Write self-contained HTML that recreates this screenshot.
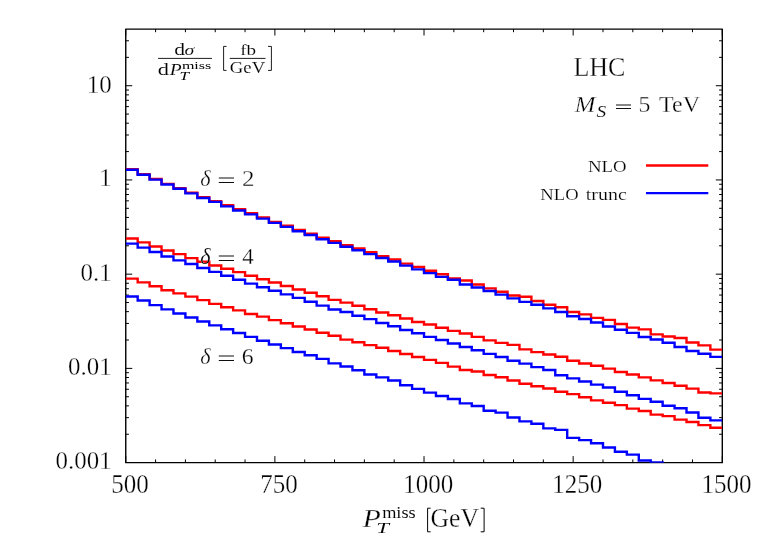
<!DOCTYPE html>
<html><head><meta charset="utf-8">
<style>
html,body{margin:0;padding:0;background:#fff;overflow:hidden;}
svg{display:block;}
text{font-family:"Liberation Serif",serif;fill:#000;}
.big{font-size:26px;}
.thin{stroke:#fff;stroke-width:0.3px;}
</style></head><body>
<svg width="763" height="535" viewBox="0 0 763 535">
<rect width="763" height="535" fill="#fff"/>
<defs><clipPath id="c"><rect x="125.75" y="29.0" width="596.55" height="433.65"/></clipPath></defs>
<path d="M125.75 462.65v-6.50M125.75 29.00v6.50M155.58 462.65v-3.20M155.58 29.00v3.20M185.41 462.65v-3.20M185.41 29.00v3.20M215.23 462.65v-3.20M215.23 29.00v3.20M245.06 462.65v-3.20M245.06 29.00v3.20M274.89 462.65v-6.50M274.89 29.00v6.50M304.72 462.65v-3.20M304.72 29.00v3.20M334.54 462.65v-3.20M334.54 29.00v3.20M364.37 462.65v-3.20M364.37 29.00v3.20M394.20 462.65v-3.20M394.20 29.00v3.20M424.02 462.65v-6.50M424.02 29.00v6.50M453.85 462.65v-3.20M453.85 29.00v3.20M483.68 462.65v-3.20M483.68 29.00v3.20M513.51 462.65v-3.20M513.51 29.00v3.20M543.33 462.65v-3.20M543.33 29.00v3.20M573.16 462.65v-6.50M573.16 29.00v6.50M602.99 462.65v-3.20M602.99 29.00v3.20M632.82 462.65v-3.20M632.82 29.00v3.20M662.64 462.65v-3.20M662.64 29.00v3.20M692.47 462.65v-3.20M692.47 29.00v3.20M722.30 462.65v-6.50M722.30 29.00v6.50M125.75 434.24h3.20M722.30 434.24h-3.20M125.75 417.65h3.20M722.30 417.65h-3.20M125.75 405.87h3.20M722.30 405.87h-3.20M125.75 396.74h3.20M722.30 396.74h-3.20M125.75 389.28h3.20M722.30 389.28h-3.20M125.75 382.97h3.20M722.30 382.97h-3.20M125.75 377.51h3.20M722.30 377.51h-3.20M125.75 372.69h3.20M722.30 372.69h-3.20M125.75 368.38h6.50M722.30 368.38h-6.50M125.75 340.02h3.20M722.30 340.02h-3.20M125.75 323.43h3.20M722.30 323.43h-3.20M125.75 311.65h3.20M722.30 311.65h-3.20M125.75 302.52h3.20M722.30 302.52h-3.20M125.75 295.06h3.20M722.30 295.06h-3.20M125.75 288.75h3.20M722.30 288.75h-3.20M125.75 283.29h3.20M722.30 283.29h-3.20M125.75 278.47h3.20M722.30 278.47h-3.20M125.75 274.16h6.50M722.30 274.16h-6.50M125.75 245.80h3.20M722.30 245.80h-3.20M125.75 229.21h3.20M722.30 229.21h-3.20M125.75 217.43h3.20M722.30 217.43h-3.20M125.75 208.30h3.20M722.30 208.30h-3.20M125.75 200.84h3.20M722.30 200.84h-3.20M125.75 194.53h3.20M722.30 194.53h-3.20M125.75 189.07h3.20M722.30 189.07h-3.20M125.75 184.25h3.20M722.30 184.25h-3.20M125.75 179.94h6.50M722.30 179.94h-6.50M125.75 151.58h3.20M722.30 151.58h-3.20M125.75 134.99h3.20M722.30 134.99h-3.20M125.75 123.21h3.20M722.30 123.21h-3.20M125.75 114.08h3.20M722.30 114.08h-3.20M125.75 106.62h3.20M722.30 106.62h-3.20M125.75 100.31h3.20M722.30 100.31h-3.20M125.75 94.85h3.20M722.30 94.85h-3.20M125.75 90.03h3.20M722.30 90.03h-3.20M125.75 85.72h6.50M722.30 85.72h-6.50M125.75 57.36h3.20M722.30 57.36h-3.20M125.75 40.77h3.20M722.30 40.77h-3.20" stroke="#000" stroke-width="1" fill="none"/>
<rect x="125.75" y="29.1" width="596.55" height="433.54999999999995" fill="none" stroke="#000" stroke-width="1.4" stroke-linejoin="round"/>
<g clip-path="url(#c)" fill="none" stroke-width="2.4" stroke-linejoin="miter">
<path d="M125.75 169.15H137.68V174.18H149.61V178.96H161.54V183.84H173.47V188.12H185.41V192.70H197.34V197.28H209.27V201.20H221.20V205.20H233.13V209.20H245.06V213.10H256.99V217.40H268.92V222.00H280.85V225.69H292.78V229.91H304.71V233.67H316.65V237.78H328.58V241.29H340.51V245.10H352.44V248.51H364.37V252.32H376.30V256.13H388.23V259.54H400.16V263.65H412.09V266.85H424.02V270.75H435.96V274.25H447.89V278.45H459.82V280.55H471.75V284.45H483.68V288.35H495.61V291.75H507.54V295.45H519.47V296.75H531.40V300.95H543.34V304.75H555.27V307.25H567.20V311.95H579.13V314.35H591.06V317.85H602.99V319.85H614.92V323.95H626.85V327.65H638.78V329.35H650.71V334.35H662.64V336.45H674.58V338.05H686.51V342.55H698.44V345.35H710.37V349.65H722.30" stroke="#ff0000"/>
<path d="M125.75 169.75H137.68V174.80H149.61V179.60H161.54V184.50H173.47V188.80H185.41V193.40H197.34V198.00H209.27V201.90H221.20V206.40H233.13V210.50H245.06V214.40H256.99V218.60H268.92V222.90H280.85V226.90H292.78V231.20H304.71V235.05H316.65V239.25H328.58V242.85H340.51V246.75H352.44V250.25H364.37V254.15H376.30V258.05H388.23V261.55H400.16V265.65H412.09V269.35H424.02V273.15H435.96V276.85H447.89V279.75H459.82V284.45H471.75V287.55H483.68V291.05H495.61V294.65H507.54V298.35H519.47V301.85H531.40V304.75H543.34V308.35H555.27V311.95H567.20V316.25H579.13V318.95H591.06V322.55H602.99V326.45H614.92V329.75H626.85V332.85H638.78V337.05H650.71V339.55H662.64V342.75H674.58V346.95H686.51V350.95H698.44V353.75H710.37V356.85H722.30" stroke="#0000ff"/>
<path d="M125.75 238.45H137.68V242.35H149.61V246.55H161.54V250.55H173.47V254.15H185.41V258.15H197.34V261.75H209.27V265.45H221.20V268.75H233.13V272.15H245.06V275.75H256.99V279.25H268.92V282.55H280.85V286.05H292.78V289.45H304.71V292.75H316.65V296.25H328.58V299.85H340.51V302.65H352.44V305.75H364.37V309.25H376.30V312.45H388.23V315.25H400.16V318.55H412.09V321.95H424.02V324.45H435.96V327.75H447.89V330.85H459.82V333.45H471.75V336.85H483.68V340.35H495.61V342.85H507.54V344.85H519.47V349.35H531.40V352.15H543.34V354.55H555.27V356.75H567.20V360.75H579.13V363.45H591.06V365.75H602.99V368.65H614.92V372.05H626.85V374.45H638.78V377.35H650.71V380.35H662.64V382.95H674.58V385.75H686.51V388.65H698.44V392.45H710.37V393.35H722.30" stroke="#ff0000"/>
<path d="M125.75 243.65H137.68V247.65H149.61V251.95H161.54V256.45H173.47V260.35H185.41V264.05H197.34V267.95H209.27V271.85H221.20V275.75H233.13V279.75H245.06V283.65H256.99V287.25H268.92V290.75H280.85V294.35H292.78V297.85H304.71V301.75H316.65V305.65H328.58V309.45H340.51V312.05H352.44V315.75H364.37V319.15H376.30V323.05H388.23V326.25H400.16V330.05H412.09V333.25H424.02V336.85H435.96V339.95H447.89V343.45H459.82V347.05H471.75V350.25H483.68V353.85H495.61V356.95H507.54V360.75H519.47V363.65H531.40V367.15H543.34V369.95H555.27V375.25H567.20V378.35H579.13V381.55H591.06V384.65H602.99V387.55H614.92V391.75H626.85V395.25H638.78V398.85H650.71V401.75H662.64V405.75H674.58V408.25H686.51V412.55H698.44V417.75H710.37V420.35H722.30" stroke="#0000ff"/>
<path d="M125.75 278.65H137.68V282.35H149.61V286.25H161.54V290.25H173.47V293.35H185.41V296.65H197.34V300.15H209.27V303.85H221.20V307.25H233.13V310.35H245.06V314.05H256.99V316.65H268.92V320.15H280.85V323.25H292.78V326.45H304.71V329.55H316.65V332.75H328.58V335.75H340.51V339.65H352.44V342.25H364.37V345.15H376.30V347.75H388.23V350.95H400.16V354.05H412.09V356.95H424.02V359.85H435.96V362.85H447.89V366.65H459.82V370.05H471.75V371.45H483.68V374.95H495.61V377.25H507.54V380.45H519.47V383.75H531.40V386.25H543.34V388.55H555.27V391.75H567.20V394.15H579.13V397.25H591.06V400.35H602.99V402.75H614.92V405.15H626.85V408.65H638.78V411.05H650.71V414.65H662.64V416.15H674.58V419.65H686.51V421.95H698.44V425.15H710.37V427.75H722.30" stroke="#ff0000"/>
<path d="M125.75 296.55H137.68V300.55H149.61V305.15H161.54V309.35H173.47V313.55H185.41V317.45H197.34V321.45H209.27V325.35H221.20V329.25H233.13V333.05H245.06V336.85H256.99V340.75H268.92V344.55H280.85V348.15H292.78V352.05H304.71V355.25H316.65V358.85H328.58V363.35H340.51V366.55H352.44V370.25H364.37V374.55H376.30V377.35H388.23V380.55H400.16V385.25H412.09V388.85H424.02V392.65H435.96V396.05H447.89V399.05H459.82V403.35H471.75V406.05H483.68V410.75H495.61V412.65H507.54V417.55H519.47V421.35H531.40V423.75H543.34V428.35H555.27V429.85H567.20V437.85H579.13V440.15H591.06V443.25H602.99V447.55H614.92V451.75H626.85V454.65H638.78V460.55H650.71V462.40H662.64V470.35H674.58V474.35H686.51V478.35H698.44V482.35H710.37V486.35H722.30" stroke="#0000ff"/>
</g>
<g opacity="0.999"><text transform="translate(111.6 92.72) scale(0.955 1)" text-anchor="end" font-size="26.1" class="thin">10</text>
<text transform="translate(111.6 186.44) scale(0.955 1)" text-anchor="end" font-size="26.1" class="thin">1</text>
<text transform="translate(111.6 280.66) scale(0.955 1)" text-anchor="end" font-size="26.1" class="thin">0.1</text>
<text transform="translate(111.6 374.88) scale(0.955 1)" text-anchor="end" font-size="26.1" class="thin">0.01</text>
<text transform="translate(111.6 469.10) scale(0.955 1)" text-anchor="end" font-size="26.1" class="thin">0.001</text>
<text transform="translate(129.95 492.7) scale(0.94 1)" text-anchor="middle" font-size="26.6" class="thin">500</text>
<text transform="translate(279.09 492.7) scale(0.94 1)" text-anchor="middle" font-size="26.6" class="thin">750</text>
<text transform="translate(428.22 492.7) scale(0.94 1)" text-anchor="middle" font-size="26.6" class="thin">1000</text>
<text transform="translate(577.36 492.7) scale(0.94 1)" text-anchor="middle" font-size="26.6" class="thin">1250</text>
<text transform="translate(726.50 492.7) scale(0.94 1)" text-anchor="middle" font-size="26.6" class="thin">1500</text>

<path d="M646.0 165.5H708.3" stroke="#ff0000" stroke-width="2.4"/>
<path d="M646.0 193.1H708.3" stroke="#0000ff" stroke-width="2.4"/>
<text transform="matrix(0.2602 0 0 0.2800 573.42 76.10)" font-size="100" stroke="#fff" stroke-width="1.11">LHC</text>
<text transform="matrix(0.2483 0 0 0.2292 574.75 112.40)" font-size="100" font-style="italic" stroke="#fff" stroke-width="1.26">M</text>
<text transform="matrix(0.1936 0 0 0.1569 596.41 117.30)" font-size="100" font-style="italic" stroke="#fff" stroke-width="0.86">S</text>
<path d="M616.00 105.00H631.00M616.00 108.50H631.00" stroke="#000" stroke-width="0.95"/>
<text transform="matrix(0.2375 0 0 0.2246 638.48 112.40)" font-size="100" stroke="#fff" stroke-width="1.30">5</text>
<text transform="matrix(0.2405 0 0 0.2292 659.02 112.40)" font-size="100" stroke="#fff" stroke-width="1.28">TeV</text>
<text transform="matrix(0.1879 0 0 0.1754 587.94 171.60)" font-size="100" stroke="#fff" stroke-width="1.10">NLO</text>
<text transform="matrix(0.1864 0 0 0.1769 540.34 199.50)" font-size="100" stroke="#fff" stroke-width="1.10">NLO</text>
<text transform="matrix(0.2000 0 0 0.1696 585.70 199.50)" font-size="100" stroke="#fff" stroke-width="1.08">trunc</text>
<text transform="matrix(0.2222 0 0 0.2329 200.33 185.90)" font-size="100" font-style="italic" stroke="#fff" stroke-width="1.32">δ</text>
<path d="M218.80 178.00H234.00M218.80 182.50H234.00" stroke="#000" stroke-width="0.95"/>
<text transform="matrix(0.2500 0 0 0.2262 241.90 185.70)" font-size="100" stroke="#fff" stroke-width="1.26">2</text>
<text transform="matrix(0.2222 0 0 0.2329 200.33 264.10)" font-size="100" font-style="italic" stroke="#fff" stroke-width="0.88">δ</text>
<path d="M218.80 256.00H234.00M218.80 260.50H234.00" stroke="#000" stroke-width="0.95"/>
<text transform="matrix(0.2283 0 0 0.2338 242.24 263.80)" font-size="100" stroke="#fff" stroke-width="1.30">4</text>
<text transform="matrix(0.2222 0 0 0.2343 200.33 364.00)" font-size="100" font-style="italic" stroke="#fff" stroke-width="1.31">δ</text>
<path d="M218.80 356.00H234.00M218.80 360.50H234.00" stroke="#000" stroke-width="0.95"/>
<text transform="matrix(0.2372 0 0 0.2400 241.75 364.20)" font-size="100" stroke="#fff" stroke-width="1.26">6</text>
<text transform="matrix(0.2949 0 0 0.2569 362.80 526.80)" font-size="100" font-style="italic" stroke="#fff" stroke-width="1.09">P</text>
<text transform="matrix(0.1831 0 0 0.1692 382.13 517.50)" font-size="100" stroke="#fff" stroke-width="0.28">miss</text>
<text transform="matrix(0.2296 0 0 0.1554 376.29 532.60)" font-size="100" font-style="italic" stroke="#fff" stroke-width="0.26">T</text>
<text transform="matrix(0.2565 0 0 0.2738 430.57 527.00)" font-size="100" stroke="#fff" stroke-width="1.13">GeV</text>
<path d="M430.6 508.2H427.6V531.8H430.6M480.7 508.2H484.1V531.8H480.7" stroke="#000" stroke-width="1" fill="none"/>
<text transform="matrix(0.2156 0 0 0.1652 174.14 55.00)" font-size="100" stroke="#fff" stroke-width="0.53">d</text>
<text transform="matrix(0.2000 0 0 0.1431 184.40 55.00)" font-size="100" font-style="italic" stroke="#fff" stroke-width="0.58">σ</text>
<text transform="matrix(0.2244 0 0 0.1652 157.80 74.80)" font-size="100" stroke="#fff" stroke-width="0.51">d</text>
<text transform="matrix(0.1949 0 0 0.1600 169.70 74.80)" font-size="100" font-style="italic" stroke="#fff" stroke-width="0.56">P</text>
<text transform="matrix(0.1607 0 0 0.1092 181.88 68.50)" font-size="100">miss</text>
<text transform="matrix(0.1704 0 0 0.1200 179.51 80.40)" font-size="100" font-style="italic">T</text>
<text transform="matrix(0.1908 0 0 0.1549 240.13 54.70)" font-size="100" stroke="#fff" stroke-width="0.58">fb</text>
<text transform="matrix(0.1870 0 0 0.1692 229.85 73.10)" font-size="100" stroke="#fff" stroke-width="0.56">GeV</text>
<path d="M158.1 58.4H211.9M229.7 58.4H265.5" stroke="#000" stroke-width="0.9"/>
<path d="M226.5 46.4H223.6V70.4H226.5M268 46.4H271.4V70.4H268" stroke="#000" stroke-width="0.9" fill="none"/>
</g></svg>
</body></html>
